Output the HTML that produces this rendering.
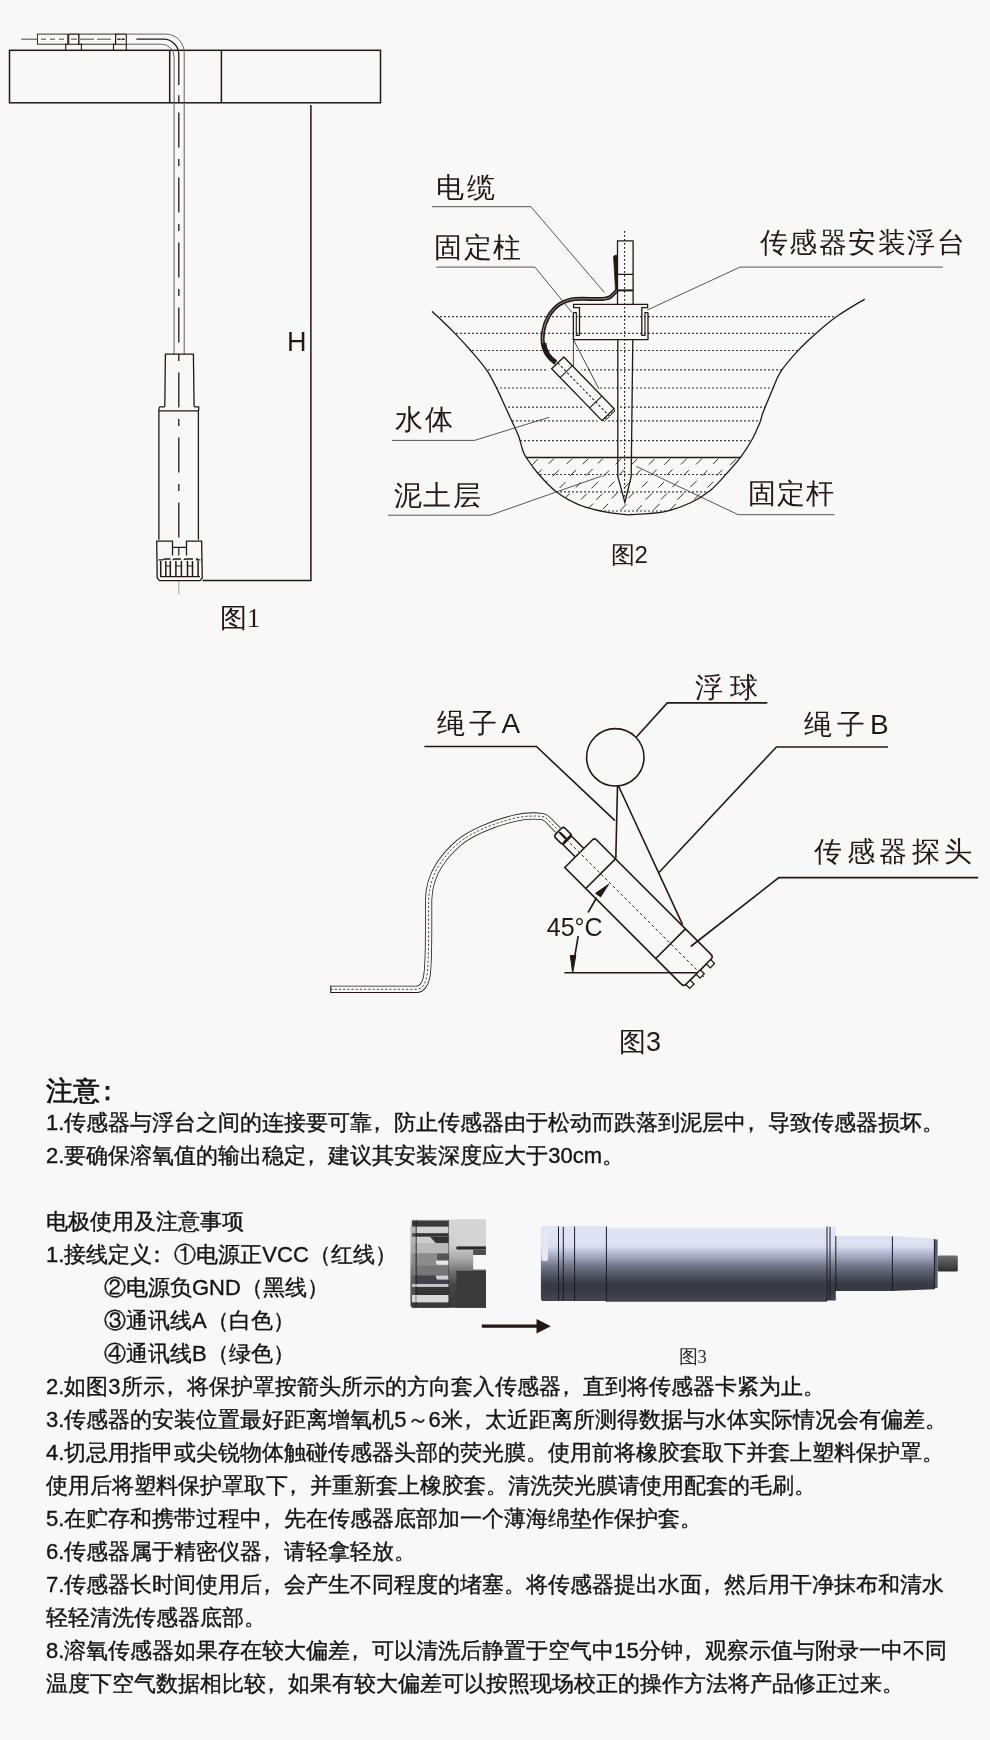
<!DOCTYPE html>
<html><head><meta charset="utf-8">
<style>
html,body{margin:0;padding:0;background:#f8f8f8;}
body{width:990px;height:1740px;overflow:hidden;position:relative;font-family:"Liberation Sans",sans-serif;color:#141414;}
.t{position:absolute;will-change:transform;white-space:nowrap;font-size:22px;line-height:40px;-webkit-text-stroke:0.35px #141414;}
.cm{position:relative;left:-6px;margin-right:-0px}
svg{position:absolute;left:0;top:0;will-change:transform;}
</style></head><body>
<svg width="990" height="1740" viewBox="0 0 990 1740">
<g id="fig1" fill="none" stroke="#231815" stroke-width="1.5">
  <rect x="9.5" y="50.3" width="371" height="52.5"/>
  <line x1="169.7" y1="50.3" x2="169.7" y2="102.8"/>
  <line x1="221.4" y1="50.3" x2="221.4" y2="102.8"/>
  <!-- cable -->
  <path d="M126.3 34.1 H165.7 A18.5 18.5 0 0 1 184.2 52.6 V354.2" stroke-width="0.9" stroke="#5a5050"/>
  <path d="M126.3 44.2 H161.6 A12.5 12.5 0 0 1 174.1 56.7 V354.2" stroke-width="0.9" stroke="#5a5050"/>
  <path d="M136.4 39.2 H163.5 A15.3 15.3 0 0 1 178.8 54.5 V85" stroke-width="1.3"/>
  <path d="M178.8 95.2 V102.5" stroke-width="1.3"/>
  <path d="M178.8 112.6 V541" stroke-width="1.3" stroke-dasharray="35 11.5 7 11.5"/>
  <path d="M117 39.2 H125" stroke-width="1" stroke-dasharray="3 2"/>
  <!-- left connectors -->
  <line x1="21.2" y1="39.2" x2="37.4" y2="39.2" stroke-width="0.8"/>
  <rect x="37.4" y="34.1" width="30.3" height="10.1" stroke-width="0.9"/>
  <path d="M41 39.2 H66" stroke-width="0.8" stroke-dasharray="5 4"/>
  <path d="M68.7 34.1 V44.2 M78.8 34.1 V44.2 M68.7 34.1 H78.8 M65.7 50.3 V44.2 H81.4 V50.3" stroke-width="1.1"/>
  <path d="M71 39.2 H77" stroke-width="0.8"/>
  <rect x="78.8" y="34.1" width="36.8" height="10.1" stroke-width="0.9"/>
  <path d="M80 39.2 H113" stroke-width="0.8" stroke-dasharray="14 3"/>
  <path d="M115.6 34.1 V44.2 M126.3 34.1 V50.3 M113.5 50.3 V44.2 H126.3 M115.6 34.1 H126.3" stroke-width="1.1"/>
  <path d="M118 39.2 H124" stroke-width="0.8"/>
  <!-- probe -->
  <path d="M164.8 406.8 L165.4 354.2 H193.4 L194.1 406.8" stroke-width="1.3"/>
  <path d="M164.8 406.8 H160 Q158.8 407.5 158.8 410.8 M194.1 406.8 H198.7 V410.8 M158.8 410.8 H198.7" stroke-width="1.3"/>
  <path d="M158.9 410.8 V539.7 M198.4 410.8 V539.7" stroke-width="1.3"/>
  
  <!-- cap -->
  <path d="M172.5 555.4 V541.2 H156.7 L157.2 578 L159.5 580.6 H200 L202.3 578 L201.6 541.2 H186.5 V555.4" stroke-width="1.3"/>
  <path d="M172.5 547.3 H186.5 M178.8 547.3 V555.4" stroke-width="1.2"/>
  <path d="M158.5 559.9 H163 M196 559.9 H200.5 M160 576.6 H200" stroke-width="1.4"/>
  <path d="M160.7 561 V576.6 M165.8 561 V576.6 M170.3 561 V576.6 M175.9 561 V576.6 M181.4 561 V576.6 M187.5 561 V576.6 M192.5 561 V576.6 M198.1 561 V576.6" stroke-width="1.5"/>
  <path d="M163.5 560 Q163.5 559 165 559 H170.5 M173 560 Q173 559 175 559 H181 M184 560 Q184 559 186 559 H193 M196 559 H198" stroke-width="1.4"/>
  <path d="M166 566 H170 M176 566 H181 M187.5 566 H192" stroke-width="1"/>
  <line x1="178.8" y1="580.6" x2="178.8" y2="594" stroke-width="0.4"/>
  <!-- H dimension -->
  <path d="M310.9 105 V580.6 H202.6" stroke-width="1.5"/>
</g>
<defs>
  <clipPath id="mud"><rect x="420" y="458.5" width="460" height="70"/></clipPath>
  <clipPath id="basin"><path d="M432.0 311.2 C435.6 314.7 447.4 325.8 453.9 332.4 C460.4 339.0 465.5 344.6 470.9 350.8 C476.3 357.1 482.2 363.8 486.5 369.9 C490.8 376.0 493.2 381.4 496.4 387.6 C499.6 393.9 503.1 402.0 505.6 407.4 C508.1 412.8 509.2 415.3 511.3 420.0 C513.4 424.7 516.5 430.7 518.4 435.6 C520.3 440.6 521.3 446.1 522.6 449.7 C523.9 453.3 523.6 453.5 526.2 457.5 C528.8 461.5 533.1 467.9 538.2 473.7 C543.3 479.5 549.8 486.9 556.6 492.1 C563.4 497.3 571.2 501.6 579.2 504.9 C587.2 508.2 596.6 510.2 604.7 511.9 C612.8 513.5 624.1 514.3 628.0 514.8 C633.9 514.3 653.3 513.8 663.6 511.8 C673.9 509.8 682.1 506.6 690.0 503.0 C697.9 499.4 704.3 495.5 710.9 490.0 C717.5 484.5 724.9 475.4 729.8 470.0 C734.7 464.6 736.8 462.4 740.5 457.4 C744.2 452.4 748.5 445.9 751.8 440.0 C755.1 434.1 758.4 426.1 760.2 421.8 C762.0 417.5 760.4 419.5 762.4 414.2 C764.4 408.9 769.3 397.1 772.3 390.0 C775.3 382.9 776.3 378.4 780.6 371.8 C784.9 365.2 792.1 357.0 798.0 350.6 C803.9 344.2 809.8 338.9 816.2 333.2 C822.7 327.5 828.6 322.2 836.7 316.5 C844.8 310.8 860.0 302.0 864.7 299.1 Z"/></clipPath>
  <pattern id="hatch" width="17" height="21" patternUnits="userSpaceOnUse" x="3" y="455.5">
    <path d="M1 8.5 L7 2.5 M9.5 19 L15.5 13" stroke="#231815" stroke-width="0.9"/>
  </pattern>
</defs>
<g id="fig2" fill="none" stroke="#231815">
  <path d="M432.0 311.2 C435.6 314.7 447.4 325.8 453.9 332.4 C460.4 339.0 465.5 344.6 470.9 350.8 C476.3 357.1 482.2 363.8 486.5 369.9 C490.8 376.0 493.2 381.4 496.4 387.6 C499.6 393.9 503.1 402.0 505.6 407.4 C508.1 412.8 509.2 415.3 511.3 420.0 C513.4 424.7 516.5 430.7 518.4 435.6 C520.3 440.6 521.3 446.1 522.6 449.7 C523.9 453.3 523.6 453.5 526.2 457.5 C528.8 461.5 533.1 467.9 538.2 473.7 C543.3 479.5 549.8 486.9 556.6 492.1 C563.4 497.3 571.2 501.6 579.2 504.9 C587.2 508.2 596.6 510.2 604.7 511.9 C612.8 513.5 624.1 514.3 628.0 514.8" stroke-width="1.3"/>
  <path d="M864.7 299.1 C860.0 302.0 844.8 310.8 836.7 316.5 C828.6 322.2 822.7 327.5 816.2 333.2 C809.8 338.9 803.9 344.2 798.0 350.6 C792.1 357.0 784.9 365.2 780.6 371.8 C776.3 378.4 775.3 382.9 772.3 390.0 C769.3 397.1 764.4 408.9 762.4 414.2 C760.4 419.5 762.0 417.5 760.2 421.8 C758.4 426.1 755.1 434.1 751.8 440.0 C748.5 445.9 744.2 452.4 740.5 457.4 C736.8 462.4 734.7 464.6 729.8 470.0 C724.9 475.4 717.5 484.5 710.9 490.0 C704.3 495.5 697.9 499.4 690.0 503.0 C682.1 506.6 673.9 509.8 663.6 511.8 C653.3 513.8 633.9 514.3 628.0 514.8" stroke-width="1.3"/>
  <g clip-path="url(#basin)">
    <path d="M420 316.7 H880 M420 333.3 H880 M420 350.5 H880 M420 369.9 H880 M420 388.0 H880 M420 407.2 H880 M420 420.8 H880 M420 440.6 H880 M420 474.5 H880 M420 491.9 H880 M420 511.0 H880" stroke-width="1.2" stroke-dasharray="2 2" stroke-opacity="0.85"/>
    <path d="M420 457.5 H880" stroke-width="1.4"/>
    <g clip-path="url(#mud)"><path d="M417.8 464.0 l6.1 -6.1 M433.8 464.4 l5.7 -5.7 M450.4 464.1 l5.3 -5.3 M467.7 463.5 l5.3 -5.3 M484.0 464.7 l5.4 -5.4 M499.4 465.0 l6.5 -6.5 M516.6 464.6 l6.6 -6.6 M532.2 464.9 l5.6 -5.6 M548.8 463.7 l5.6 -5.6 M566.7 464.0 l6.0 -6.0 M582.6 464.3 l6.0 -6.0 M597.9 463.5 l5.5 -5.5 M615.7 464.2 l5.6 -5.6 M631.9 464.2 l5.6 -5.6 M648.8 464.6 l5.5 -5.5 M664.3 464.8 l6.4 -6.4 M681.0 464.4 l6.6 -6.6 M696.1 464.5 l6.3 -6.3 M713.0 464.1 l5.3 -5.3 M730.3 464.9 l6.0 -6.0 M747.1 464.3 l6.2 -6.2 M763.0 464.5 l5.8 -5.8 M780.0 465.1 l5.9 -5.9 M795.8 463.9 l6.2 -6.2 M812.1 465.5 l6.4 -6.4 M827.7 464.4 l6.1 -6.1 M843.8 464.2 l5.4 -5.4 M860.0 463.9 l6.3 -6.3 M421.1 475.5 l5.7 -5.7 M439.3 475.2 l5.8 -5.8 M454.6 476.8 l6.3 -6.3 M472.1 475.5 l5.8 -5.8 M486.9 476.9 l6.5 -6.5 M503.3 475.2 l5.5 -5.5 M519.6 476.0 l6.0 -6.0 M536.2 475.1 l5.8 -5.8 M552.5 476.4 l6.5 -6.5 M569.9 476.1 l6.1 -6.1 M586.1 475.5 l6.5 -6.5 M602.8 476.8 l6.3 -6.3 M618.8 475.5 l5.3 -5.3 M635.8 474.9 l5.3 -5.3 M651.0 475.3 l5.7 -5.7 M667.1 474.9 l5.4 -5.4 M683.7 475.4 l5.2 -5.2 M701.9 475.9 l5.4 -5.4 M716.7 475.6 l5.7 -5.7 M732.3 476.9 l6.6 -6.6 M750.2 475.6 l5.3 -5.3 M765.6 475.5 l5.6 -5.6 M783.9 475.1 l5.2 -5.2 M800.5 475.7 l5.4 -5.4 M815.6 475.2 l5.9 -5.9 M833.0 476.7 l6.2 -6.2 M848.0 475.5 l5.4 -5.4 M865.2 476.2 l6.3 -6.3 M410.4 487.2 l6.3 -6.3 M428.4 488.2 l6.3 -6.3 M444.8 487.6 l5.5 -5.5 M460.6 486.9 l5.2 -5.2 M475.7 486.9 l5.6 -5.6 M493.5 488.1 l5.8 -5.8 M510.2 488.5 l6.5 -6.5 M525.7 486.8 l5.5 -5.5 M541.4 487.1 l6.1 -6.1 M559.6 488.0 l5.9 -5.9 M575.7 487.6 l5.3 -5.3 M591.6 488.3 l6.3 -6.3 M608.7 487.2 l5.4 -5.4 M624.7 487.4 l6.3 -6.3 M641.9 487.2 l5.8 -5.8 M658.4 487.6 l5.4 -5.4 M672.3 487.2 l6.5 -6.5 M690.4 487.1 l6.4 -6.4 M707.5 487.6 l5.7 -5.7 M723.1 486.5 l5.2 -5.2 M740.2 487.7 l5.9 -5.9 M756.2 487.6 l6.4 -6.4 M772.8 486.8 l5.6 -5.6 M787.7 487.1 l6.0 -6.0 M804.3 487.1 l5.4 -5.4 M822.1 487.2 l5.8 -5.8 M837.7 488.0 l5.8 -5.8 M854.8 487.5 l5.9 -5.9 M870.3 486.6 l5.8 -5.8 M415.0 498.4 l6.3 -6.3 M431.4 499.1 l6.2 -6.2 M448.9 498.7 l5.9 -5.9 M465.6 499.1 l5.3 -5.3 M481.9 498.4 l5.6 -5.6 M498.6 499.0 l6.0 -6.0 M515.0 499.6 l5.8 -5.8 M531.0 499.0 l5.9 -5.9 M547.6 498.9 l5.9 -5.9 M563.4 499.8 l6.2 -6.2 M581.0 499.5 l5.6 -5.6 M596.3 499.9 l6.4 -6.4 M611.9 498.3 l5.8 -5.8 M628.4 498.2 l5.3 -5.3 M645.7 499.7 l6.5 -6.5 M661.0 499.4 l6.1 -6.1 M677.2 499.9 l6.6 -6.6 M694.1 499.6 l5.8 -5.8 M710.9 500.0 l6.4 -6.4 M726.7 498.9 l5.9 -5.9 M743.7 498.3 l5.6 -5.6 M760.8 498.2 l6.0 -6.0 M776.7 498.1 l5.7 -5.7 M793.8 498.7 l5.3 -5.3 M810.4 499.7 l6.6 -6.6 M825.3 498.3 l5.3 -5.3 M843.3 498.3 l5.4 -5.4 M858.3 499.8 l6.3 -6.3 M874.3 498.7 l6.5 -6.5 M423.7 510.0 l5.3 -5.3 M438.6 510.2 l5.8 -5.8 M454.9 510.7 l6.1 -6.1 M472.9 509.5 l6.4 -6.4 M487.8 510.5 l5.8 -5.8 M504.6 510.3 l6.5 -6.5 M521.1 509.4 l5.9 -5.9 M537.7 509.1 l5.4 -5.4 M553.5 509.3 l5.6 -5.6 M570.5 510.2 l5.6 -5.6 M587.4 509.3 l5.7 -5.7 M602.8 509.2 l5.2 -5.2 M620.8 509.8 l5.5 -5.5 M636.7 510.4 l5.3 -5.3 M653.6 509.8 l5.9 -5.9 M670.0 509.8 l5.9 -5.9 M686.2 510.6 l5.7 -5.7 M702.8 510.4 l6.1 -6.1 M718.5 509.4 l5.3 -5.3 M733.8 509.4 l6.2 -6.2 M751.0 509.1 l5.3 -5.3 M768.3 510.7 l6.1 -6.1 M783.7 509.4 l5.6 -5.6 M800.4 509.4 l5.8 -5.8 M816.0 511.0 l6.6 -6.6 M833.0 509.9 l6.6 -6.6 M849.5 509.4 l5.2 -5.2 M865.8 509.9 l5.9 -5.9 M413.1 519.6 l5.2 -5.2 M429.4 519.2 l5.8 -5.8 M445.3 519.0 l5.6 -5.6 M462.0 520.1 l5.9 -5.9 M479.5 520.4 l6.2 -6.2 M496.5 519.7 l5.7 -5.7 M512.9 519.5 l6.2 -6.2 M528.4 519.5 l6.4 -6.4 M545.4 520.3 l6.2 -6.2 M561.8 519.4 l5.9 -5.9 M577.2 520.7 l6.3 -6.3 M594.4 520.4 l6.4 -6.4 M610.9 520.1 l5.5 -5.5 M625.6 519.3 l5.7 -5.7 M642.1 520.5 l6.0 -6.0 M659.6 520.3 l6.2 -6.2 M675.6 519.4 l6.3 -6.3 M692.8 520.0 l5.9 -5.9 M708.9 519.4 l6.2 -6.2 M724.6 519.1 l5.6 -5.6 M741.8 519.6 l6.2 -6.2 M759.1 519.9 l5.7 -5.7 M774.0 520.4 l6.3 -6.3 M791.2 519.9 l5.3 -5.3 M806.0 519.7 l6.2 -6.2 M823.3 519.7 l5.2 -5.2 M838.7 519.7 l6.1 -6.1 M856.9 520.1 l5.6 -5.6 M872.7 519.9 l5.9 -5.9" stroke-width="0.9"/></g>
  </g>
  <rect x="-1" y="-8.5" width="74" height="17" transform="translate(557.75 362.9) rotate(45.8)" fill="#f8f8f8" stroke="#f8f8f8" stroke-width="7"/>
  <!-- post -->
  <path d="M624.6 231 V497" stroke-width="1.1" stroke-dasharray="1.7 2.3"/>
  <path d="M617.5 304.5 V240.9 H633.1 V304.5 M617.5 274.3 H633.1" stroke-width="1.3"/>
  <path d="M617.5 290.4 H633.1" stroke-width="2"/>
  <!-- plate -->
  <path d="M579.5 335.4 V307.7 H573.6 V304.4 H647.6 V307.7 H641.8 V335.4" stroke-width="1.3"/>
  <path d="M573.4 312.6 H576.3 V335.4 H579.5 M648 312.6 H645 V335.4 H641.8" stroke-width="1.1"/>
  <path d="M573.4 312.6 V339.6 H648 V312.6" stroke-width="1.3"/>
  <!-- spike -->
  <path d="M617.8 339.6 V476.5 L624.9 502.3 L631.2 476.5 L632.8 339.6" stroke-width="1.3"/>
  <!-- support lines -->
  <path d="M573.4 339.6 V366 M573.4 339.6 L599 389" stroke-width="0.8"/>
  <!-- cable -->
  <path d="M613.6 257 Q613.8 255.3 615.8 255.3 H617.2 L617.6 290.5 L615.6 291.5 Z" fill="#231815" stroke-width="0.8"/>
  <path d="M617.2 290.4 L610.8 296.6 C609 298.2 606.5 298.8 602 298.9 C594 299.3 584 298.4 575 299 C564 300.2 555 305 548.5 316.5 C543 326 541.2 338 543.6 347 C545.5 354 549.5 358.5 555.3 362.1" stroke-width="4"/>
  <path d="M617.2 290.4 L610.8 296.6 C609 298.2 606.5 298.8 602 298.9 C594 299.3 584 298.4 575 299 C564 300.2 555 305 548.5 316.5 C543 326 541.2 338 543.6 347 C545.5 354 549.5 358.5 555.3 362.1" stroke="#f8f8f8" stroke-width="0.7" stroke-opacity="0.75"/>
  <path d="M543.8 343 C544.5 352 549 358 555.8 362.6" stroke-width="5"/>
  <!-- probe -->
  <g transform="translate(557.75 362.9) rotate(45.8)">
    <rect x="0" y="-8.5" width="72.2" height="17" fill="#f8f8f8" stroke-width="1.3"/>
    <path d="M12.2 -8.5 V8.5 M54.5 -8.5 V8.5" stroke-width="1.1"/>
    <path d="M0 0 H72" stroke-width="1" stroke-dasharray="2.5 2"/>
    <path d="M72.2 -7.5 h2.2 v3 h-2.2 M72.2 -3.5 h2.2 v3 h-2.2 M72.2 0.5 h2.2 v3 h-2.2 M72.2 4.5 h2.2 v3 h-2.2" stroke-width="0.9"/>
  </g>
  <!-- leaders -->
  <path d="M432 206.7 H530.9 L604.4 292.5" stroke-width="0.9" stroke="#4a4040"/>
  <path d="M436.4 267.1 H534.9 L572 312.5" stroke-width="0.9" stroke="#4a4040"/>
  <path d="M942.9 267.1 H740 L647.3 310" stroke-width="0.9" stroke="#4a4040"/>
  <path d="M391.8 440.4 H474.5 L549.3 417.3" stroke-width="0.9" stroke="#4a4040"/>
  <path d="M387.9 515.2 H490.2 L601.8 476" stroke-width="0.9" stroke="#4a4040"/>
  <path d="M834.5 514.7 H738.2 L636.4 466.4" stroke-width="0.9" stroke="#4a4040"/>
</g>
<g font-family="Liberation Sans" fill="#231815" font-size="28">
  <text x="436.3" y="196.6" letter-spacing="2.5">电缆</text>
  <text x="434.4" y="257" letter-spacing="1.4">固定柱</text>
  <text x="759.5" y="251.9" letter-spacing="1.55">传感器安装浮台</text>
  <text x="395" y="428.6" letter-spacing="2">水体</text>
  <text x="393.7" y="505.4" letter-spacing="1.5">泥土层</text>
  <text x="748.2" y="502.7" letter-spacing="1">固定杆</text>
  <text x="610.6" y="562.5" font-size="24">图2</text>
</g>

<g id="fig3" fill="none" stroke="#231815">
  <!-- cable -->
  <path id="c3" d="M330.5 989.3 H416.9 C421 989.3 425 985 426.5 978 C428.2 970 428.6 950 428.6 929 V900 C428.8 890 432 876 439.5 864.6 C445 856 452 848.5 460 841.8 C470 834 490 824 514.5 818.2 C524 816 535 815.6 542 816.5 C546 817 548 819.5 551 823 L558.2 830.3" stroke-width="7.2"/>
  <path d="M330.5 989.3 H416.9 C421 989.3 425 985 426.5 978 C428.2 970 428.6 950 428.6 929 V900 C428.8 890 432 876 439.5 864.6 C445 856 452 848.5 460 841.8 C470 834 490 824 514.5 818.2 C524 816 535 815.6 542 816.5 C546 817 548 819.5 551 823 L558.2 830.3" stroke="#f8f8f8" stroke-width="5.6"/>
  <path d="M330.5 989.3 H416.9 C421 989.3 425 985 426.5 978 C428.2 970 428.6 950 428.6 929 V900 C428.8 890 432 876 439.5 864.6 C445 856 452 848.5 460 841.8 C470 834 490 824 514.5 818.2 C524 816 535 815.6 542 816.5 C546 817 548 819.5 551 823 L558.2 830.3" stroke-width="0.8" stroke-dasharray="2.2 2"/>
  <path d="M330.8 985.7 V992.9" stroke-width="1"/>
  <!-- probe -->
  <g transform="translate(579.6 852.7) rotate(45)">
    <path d="M0 21 V-18 Q0 -21 3 -21 H164.8 Q168.3 -21 168.3 -17.5 V17.5 Q168.3 21 164.8 21 Z" fill="#f8f8f8" stroke-width="1.6"/>
    <path d="M29.7 -21 V21 M128.7 -21 V21" stroke-width="1.6"/>
    <path d="M0 -6 H-18 M0 6 H-18" stroke-width="1.6"/>
    <rect x="-30" y="-7" width="12.5" height="13.5" rx="2.5" fill="#f8f8f8" stroke-width="1.6"/>
    <path d="M-28.3 -0.3 H-19.5 M-18.2 -6.2 V5" stroke-width="2.4"/>
    <path d="M-30 0 H176" stroke-width="0.9" stroke-dasharray="3 2.5"/>
    <rect x="168.3" y="-17" width="5.5" height="6" fill="#f8f8f8" stroke-width="1.3"/>
    <rect x="168.3" y="-2.5" width="5.5" height="6" fill="#f8f8f8" stroke-width="1.3"/>
    <rect x="168.3" y="12" width="5.5" height="6" fill="#f8f8f8" stroke-width="1.3"/>
  </g>
  <!-- float & strings -->
  <circle cx="615.3" cy="757.3" r="28.7" stroke-width="1.6"/>
  <path d="M617.5 786 L615.8 858.5 M618.5 786 L682.6 924.7" stroke-width="1.6"/>
  <!-- angle -->
  <path d="M564.4 972.8 H697" stroke-width="1.6"/>
  <path d="M596.6 897.5 L588.1 912.5 M578.2 936 L574.5 958" stroke-width="1.6"/>
  <path d="M608.7 884.2 L595.6 893.3 L600.6 896.9 Z" fill="#231815" stroke-width="1"/>
  <path d="M572.7 973 L570.3 955.5 L575.8 955.5 Z" fill="#231815" stroke-width="1"/>
  <!-- leaders -->
  <path d="M767.3 702.9 H667.3 L636.4 737" stroke-width="1.6"/>
  <path d="M424.4 746.5 H536.4 L615 820.6" stroke-width="1.6"/>
  <path d="M888 747 H776.4 L658.7 872.8" stroke-width="1.6"/>
  <path d="M978.2 877.6 H778.8 L690.7 946.5" stroke-width="1.6"/>
</g>
<g font-family="Liberation Sans" fill="#231815" font-size="28">
  <text x="695.4" y="696.5" letter-spacing="7">浮球</text>
  <text x="437" y="733" letter-spacing="4.3">绳子A</text>
  <text x="804" y="733.8" letter-spacing="5">绳子B</text>
  <text x="814.4" y="861" letter-spacing="4.5">传感器探头</text>
  <text x="546.8" y="935.7" font-size="25">45°C</text>
  <text x="619" y="1050.5" font-size="27">图3</text>
</g>

<defs>
  <linearGradient id="capg" x1="0" y1="0" x2="0" y2="1">
    <stop offset="0" stop-color="#dcdcdc"/>
    <stop offset="0.3" stop-color="#d2d2d2"/>
    <stop offset="0.5" stop-color="#8e8e8e"/>
    <stop offset="0.7" stop-color="#4a4a4a"/>
    <stop offset="1" stop-color="#3a3a3a"/>
  </linearGradient>
  <linearGradient id="bodyg" gradientUnits="userSpaceOnUse" x1="0" y1="1227.7" x2="0" y2="1301.7">
    <stop offset="0" stop-color="#e2e5f3"/>
    <stop offset="0.25" stop-color="#dcdff0"/>
    <stop offset="0.30" stop-color="#c6cae3"/>
    <stop offset="0.42" stop-color="#9a9db4"/>
    <stop offset="0.53" stop-color="#6e7184"/>
    <stop offset="0.65" stop-color="#4f5260"/>
    <stop offset="0.76" stop-color="#393a44"/>
    <stop offset="0.85" stop-color="#393a44"/>
    <stop offset="0.97" stop-color="#44454e"/>
    <stop offset="1" stop-color="#4a3f40"/>
  </linearGradient>
  <linearGradient id="tipg" x1="0" y1="0" x2="0" y2="1">
    <stop offset="0" stop-color="#6e6e6e"/>
    <stop offset="1" stop-color="#2e2e2e"/>
  </linearGradient>
</defs>
<g id="cap">
  <linearGradient id="capm" gradientUnits="userSpaceOnUse" x1="0" y1="1219.5" x2="0" y2="1307.7">
    <stop offset="0" stop-color="#d6d6d6"/>
    <stop offset="0.28" stop-color="#d0d0d0"/>
    <stop offset="0.45" stop-color="#a8a8a8"/>
    <stop offset="0.6" stop-color="#6e6e6e"/>
    <stop offset="0.75" stop-color="#444"/>
    <stop offset="1" stop-color="#3a3a3a"/>
  </linearGradient>
  <path d="M413.5 1219.5 H485.9 V1255 H473.2 V1269.5 H485.9 V1307.7 H413.5 Q410.5 1307.7 410.5 1304.5 V1222.7 Q410.5 1219.5 413.5 1219.5 Z" fill="url(#capm)"/>
  <rect x="456.4" y="1219.5" width="29.5" height="26.9" fill="#d4d4d4"/>
  <rect x="456.4" y="1246.4" width="29.5" height="3.1" fill="#2a2a2a"/>
  <rect x="473.2" y="1249.5" width="12.7" height="5.5" fill="#4e4e4e"/>
  <rect x="456.4" y="1270.5" width="29.5" height="37.2" fill="#3a3a3a"/>
  <rect x="456.4" y="1269.5" width="17" height="1.2" fill="#777"/>
  <g>
    <rect x="412" y="1220.5" width="36.6" height="6.3" fill="#3a3a3a"/>
    <rect x="412" y="1226.8" width="36.6" height="6.4" fill="#d2d2d2"/>
    <rect x="412" y="1233.2" width="36.6" height="3.6" fill="#333"/>
    <rect x="412" y="1236.8" width="36.6" height="6.4" fill="#cdcdcd"/>
    <path d="M430 1236.8 H448.6 V1243.2 H436 Z" fill="#333"/>
    <rect x="412" y="1243.2" width="36.6" height="10" fill="#b9b9b9"/>
    <rect x="412" y="1253.2" width="36.6" height="12.3" fill="#8c8c8c"/>
    <rect x="437" y="1253.6" width="11.6" height="7.4" fill="#555"/>
    <rect x="437" y="1261.8" width="11.6" height="3" fill="#e6e6e6"/>
    <rect x="412" y="1265.5" width="36.6" height="10" fill="#777"/>
    <rect x="412" y="1275.5" width="36.6" height="8.5" fill="#46424b"/>
    <rect x="437" y="1276.4" width="11.6" height="3.2" fill="#cfcfcf"/>
    <rect x="412" y="1284" width="36.6" height="2.8" fill="#cacaca"/>
    <rect x="412" y="1286.8" width="36.6" height="8.2" fill="#363636"/>
    <rect x="412" y="1295" width="36.6" height="7.3" fill="#d6d6d6"/>
    <rect x="412" y="1302.3" width="36.6" height="5.4" fill="#3a3a3a"/>
  </g>
  <rect x="410.5" y="1226" width="5" height="76" fill="#888" opacity="0.35"/>
  <path d="M416.3 1220 V1307" stroke="#222" stroke-width="0.9" opacity="0.7"/>
</g>
  <rect x="436" y="1260.5" width="12.6" height="3" fill="#e8e8e8"/>
  <rect x="436" y="1275.5" width="12.6" height="3" fill="#cfcfcf"/>
  <rect x="412" y="1295" width="36.6" height="7.3" fill="#d8d8d8"/>
  <rect x="412" y="1284" width="36.6" height="2.8" fill="#c8c8c8"/>
  <path d="M416 1220 V1307 M448.6 1220 V1307" stroke="#222" stroke-width="0.8" opacity="0.6"/>
</g>
<g id="sensor">
  <path d="M543 1225.9 H606.4 V1227.7 H827 V1226.3 H835.8 V1236 H892.4 L934.4 1238.4 V1289.3 L892.4 1291 H835.8 V1300.6 H827 V1301.7 H606.4 V1301 H543 Q540.9 1301 540.9 1298 V1229 Q540.9 1225.9 543 1225.9 Z" fill="url(#bodyg)"/>
  <rect x="934.4" y="1239.5" width="3.2" height="48.5" fill="#5a5b66"/>
  <rect x="937.6" y="1255.4" width="20.2" height="16.1" rx="1.5" fill="url(#tipg)"/>
  <path d="M558.5 1226.5 V1300.5 M563.3 1227 V1300.5 M574.6 1226.5 V1301 M606.4 1226.5 V1301.5 M827 1226.5 V1301 M830 1227 V1300 M835.8 1236 V1291 M892.4 1236.5 V1290.5 M934.4 1239 V1289" stroke="#1a1a22" stroke-width="1"/>
  <rect x="541.5" y="1229" width="6.5" height="32" rx="2" fill="#e6e7f2"/>
</g>
<path d="M481.8 1326.2 H538" stroke="#231815" stroke-width="3.2"/>
<path d="M550.8 1326.2 L536.5 1318.9 V1333.5 Z" fill="#231815"/>
<text x="678.5" y="1363" font-family="Liberation Serif" font-size="18.5" fill="#2c2c2c">图3</text>

<text x="287" y="351" font-family="Liberation Sans" font-size="27" fill="#231815">H</text>
<text x="220" y="627.3" font-family="Liberation Serif" font-size="26.5" fill="#231815">图1</text>
</svg>

<div class="t" style="left:46px;top:1071px;font-size:27px;-webkit-text-stroke:0.7px #141414;">注意<span class="cm">：</span></div>
<div class="t" style="left:46px;top:1103px;">1.传感器与浮台之间的连接要可靠<span class="cm">，</span>防止传感器由于松动而跌落到泥层中<span class="cm">，</span>导致传感器损坏。</div>
<div class="t" style="left:46px;top:1136px;">2.要确保溶氧值的输出稳定<span class="cm">，</span>建议其安装深度应大于30cm。</div>
<div class="t" style="left:46px;top:1202px;">电极使用及注意事项</div>
<div class="t" style="left:46px;top:1235px;">1.接线定义<span class="cm">：</span>①电源正VCC（红线）</div>
<div class="t" style="left:104px;top:1268px;">②电源负GND（黑线）</div>
<div class="t" style="left:104px;top:1301px;">③通讯线A（白色）</div>
<div class="t" style="left:104px;top:1334px;">④通讯线B（绿色）</div>
<div class="t" style="left:46px;top:1367px;">2.如图3所示<span class="cm">，</span>将保护罩按箭头所示的方向套入传感器<span class="cm">，</span>直到将传感器卡紧为止。</div>
<div class="t" style="left:46px;top:1400px;">3.传感器的安装位置最好距离增氧机5～6米<span class="cm">，</span>太近距离所测得数据与水体实际情况会有偏差。</div>
<div class="t" style="left:46px;top:1433px;">4.切忌用指甲或尖锐物体触碰传感器头部的荧光膜。使用前将橡胶套取下并套上塑料保护罩。</div>
<div class="t" style="left:46px;top:1466px;">使用后将塑料保护罩取下<span class="cm">，</span>并重新套上橡胶套。清洗荧光膜请使用配套的毛刷。</div>
<div class="t" style="left:46px;top:1499px;">5.在贮存和携带过程中<span class="cm">，</span>先在传感器底部加一个薄海绵垫作保护套。</div>
<div class="t" style="left:46px;top:1532px;">6.传感器属于精密仪器<span class="cm">，</span>请轻拿轻放。</div>
<div class="t" style="left:46px;top:1565px;">7.传感器长时间使用后<span class="cm">，</span>会产生不同程度的堵塞。将传感器提出水面<span class="cm">，</span>然后用干净抹布和清水</div>
<div class="t" style="left:46px;top:1598px;">轻轻清洗传感器底部。</div>
<div class="t" style="left:46px;top:1631px;">8.溶氧传感器如果存在较大偏差<span class="cm">，</span>可以清洗后静置于空气中15分钟<span class="cm">，</span>观察示值与附录一中不同</div>
<div class="t" style="left:46px;top:1664px;">温度下空气数据相比较<span class="cm">，</span>如果有较大偏差可以按照现场校正的操作方法将产品修正过来。</div>
</body></html>
